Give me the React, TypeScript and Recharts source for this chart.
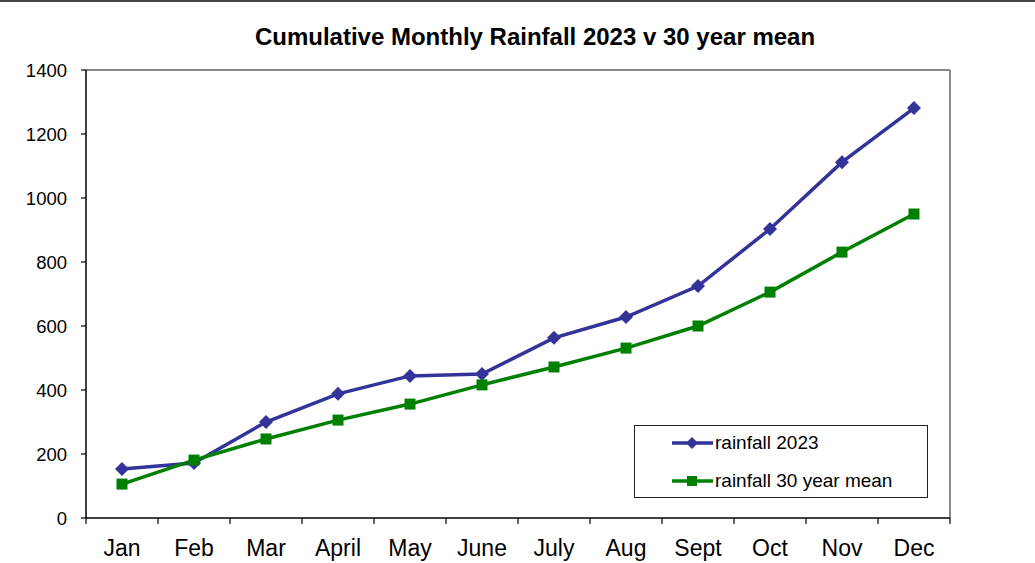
import React from "react";
import { LineChart, Line, XAxis, YAxis, ReferenceLine, Legend } from "recharts";

const months = ["Jan", "Feb", "Mar", "April", "May", "June", "July", "Aug", "Sept", "Oct", "Nov", "Dec"];
const rainfall2023 = [153, 172, 300, 388, 444, 450, 563, 628, 725, 903, 1112, 1281];
const rainfallMean = [106, 181, 247, 306, 356, 416, 472, 531, 600, 706, 831, 950];
const yTicks = [0, 200, 400, 600, 800, 1000, 1200, 1400];
const boundaryTicks = months.map((_, i) => i).concat([months.length]);
const centerTicks = months.map((_, i) => i + 0.5);

const BLUE = "#333399";
const GREEN = "#008000";
const FONT = "'Liberation Sans', Arial, sans-serif";

const data = months.map((m, i) => ({
  x: i + 0.5,
  month: m,
  r2023: rainfall2023[i],
  mean: rainfallMean[i],
}));

const Diamond = (props: any) => {
  const { cx, cy, fill, r = 7 } = props;
  if (cx == null || cy == null) return null;
  return (
    <polygon
      points={`${cx},${cy - r} ${cx + r},${cy} ${cx},${cy + r} ${cx - r},${cy}`}
      fill={fill}
    />
  );
};

const Square = (props: any) => {
  const { cx, cy, fill, s = 11 } = props;
  if (cx == null || cy == null) return null;
  return <rect x={cx - s / 2} y={cy - s / 2} width={s} height={s} fill={fill} />;
};

const NoLabel = () => <g />;

const LegendBox = (props: any) => {
  const { payload } = props;
  return (
    <div
      style={{
        width: 294,
        height: 73,
        boxSizing: "border-box",
        border: "1px solid #222",
        background: "#fff",
        fontFamily: FONT,
        fontSize: 19,
        color: "#000",
        position: "relative",
      }}
    >
      {(payload || []).map((p: any, i: number) => (
        <div
          key={i}
          style={{
            position: "absolute",
            left: 36,
            top: i === 0 ? 5 : 43,
            height: 24,
            display: "flex",
            alignItems: "center",
          }}
        >
          <svg width={43} height={20} style={{ display: "block" }}>
            <line x1={1} y1={10} x2={42} y2={10} stroke={p.color} strokeWidth={3.5} />
            {p.dataKey === "r2023" ? (
              <Diamond cx={21} cy={10} fill={p.color} r={6} />
            ) : (
              <Square cx={21} cy={10} fill={p.color} s={10} />
            )}
          </svg>
          <span style={{ marginLeft: 1, whiteSpace: "nowrap" }}>{p.value}</span>
        </div>
      ))}
    </div>
  );
};

export default function App() {
  return (
    <div style={{ position: "absolute", left: 0, top: 0, width: 1035, height: 563, background: "#fff" }}>
      <div style={{ position: "absolute", left: 0, top: 0, width: 1035, height: 2, background: "#444" }} />
      <div
        style={{
          position: "absolute",
          left: 235,
          top: 25,
          width: 600,
          textAlign: "center",
          fontFamily: FONT,
          fontWeight: "bold",
          fontSize: 24,
          lineHeight: 1,
          color: "#000",
        }}
      >
        Cumulative Monthly Rainfall 2023 v 30 year mean
      </div>
      <LineChart
        width={1035}
        height={563}
        data={data}
        margin={{ top: 70, right: 85, bottom: 0, left: 0 }}
        style={{ position: "absolute", left: 0, top: 0 }}
      >
        <XAxis
          xAxisId="grid"
          type="number"
          dataKey="x"
          domain={[0, months.length]}
          ticks={boundaryTicks}
          tick={<NoLabel />}
          tickSize={6}
          height={1}
          interval={0}
          axisLine={{ stroke: "#000", strokeWidth: 1.5 }}
          tickLine={{ stroke: "#000", strokeWidth: 1.2 }}
          allowDataOverflow
        />
        <XAxis
          xAxisId="lab"
          type="number"
          dataKey="x"
          domain={[0, months.length]}
          ticks={centerTicks}
          tickFormatter={(v: number) => months[Math.floor(v)]}
          axisLine={false}
          tickLine={false}
          tickSize={0}
          tickMargin={21}
          height={44}
          interval={0}
          tick={{ fontSize: 23, fill: "#000", fontFamily: FONT }}
        />
        <YAxis
          domain={[0, 1400]}
          ticks={yTicks}
          width={86}
          tickSize={5}
          tickMargin={14}
          interval={0}
          axisLine={{ stroke: "#000", strokeWidth: 1.5 }}
          tickLine={{ stroke: "#000", strokeWidth: 1.2 }}
          tick={{ fontSize: 18.5, fill: "#000", fontFamily: FONT }}
        />
        <ReferenceLine y={1400} xAxisId="lab" stroke="#888" strokeWidth={2} />
        <ReferenceLine x={months.length} xAxisId="lab" stroke="#888" strokeWidth={2} />
        <Line
          xAxisId="lab"
          type="linear"
          dataKey="r2023"
          name="rainfall 2023"
          stroke={BLUE}
          strokeWidth={3.5}
          dot={(p: any) => <Diamond key={`d${p.index}`} cx={p.cx} cy={p.cy} fill={BLUE} r={7} />}
          activeDot={false}
          isAnimationActive={false}
        />
        <Line
          xAxisId="lab"
          type="linear"
          dataKey="mean"
          name="rainfall 30 year mean"
          stroke={GREEN}
          strokeWidth={3.5}
          dot={(p: any) => <Square key={`s${p.index}`} cx={p.cx} cy={p.cy} fill={GREEN} s={11} />}
          activeDot={false}
          isAnimationActive={false}
        />
        <Legend
          layout="vertical"
          align="center"
          verticalAlign="middle"
          content={<LegendBox />}
          wrapperStyle={{ left: 634, top: 425, width: 294, height: 73 }}
        />
      </LineChart>
    </div>
  );
}
